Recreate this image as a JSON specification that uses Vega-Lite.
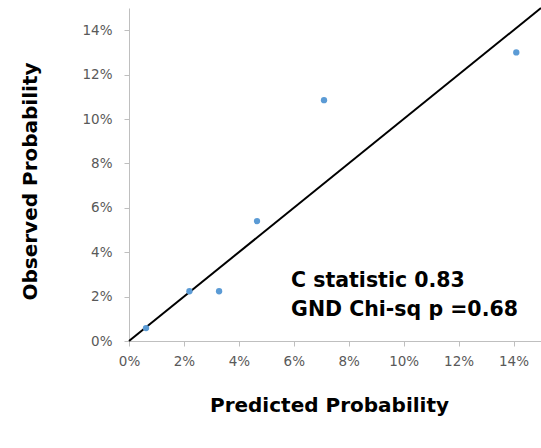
{
  "$schema": "https://vega.github.io/schema/vega-lite/v6.json",
  "width": 412,
  "height": 333,
  "autosize": {"type": "none"},
  "padding": {"left": 129, "top": 8, "right": 0, "bottom": 107},
  "background": "white",
  "config": {
    "view": {"stroke": null},
    "axis": {"grid": false, "labelFlush": false, "labelOverlap": false, "domainColor": "#bfbfbf", "tickColor": "#bfbfbf", "tickSize": 5, "labelFont": "DejaVu Sans", "labelFontSize": 13.5, "labelColor": "#595959", "titleFont": "DejaVu Sans", "titleFontWeight": "bold", "titleFontSize": 20, "titleColor": "black"}
  },
  "datasets": {
    "points": [
      {"predicted": 0.0062, "observed": 0.0058},
      {"predicted": 0.022, "observed": 0.0224},
      {"predicted": 0.0328, "observed": 0.0224},
      {"predicted": 0.0466, "observed": 0.054},
      {"predicted": 0.071, "observed": 0.1085},
      {"predicted": 0.141, "observed": 0.130}
    ],
    "diag": [{"x": 0, "y": 0, "x2": 0.15, "y2": 0.15}],
    "notes": [
      {"x": 0.059, "y": 0.0243, "label": "C statistic 0.83"},
      {"x": 0.059, "y": 0.0113, "label": "GND Chi-sq p =0.68"}
    ]
  },
  "layer": [
    {
      "data": {"name": "diag"},
      "mark": {"type": "rule", "color": "black", "strokeWidth": 2},
      "encoding": {
        "x": {"field": "x", "type": "quantitative", "scale": {"domain": [0, 0.15], "nice": false}, "title": "Predicted Probability",
          "axis": {"format": ".0%", "values": [0, 0.02, 0.04, 0.06, 0.08, 0.1, 0.12, 0.14], "labelPadding": 8, "titleX": 200, "titleY": 64, "titleBaseline": "middle"}},
        "y": {"field": "y", "type": "quantitative", "scale": {"domain": [0, 0.15], "nice": false}, "title": "Observed Probability",
          "axis": {"format": ".0%", "values": [0, 0.02, 0.04, 0.06, 0.08, 0.1, 0.12, 0.14], "labelPadding": 12, "titleX": -99, "titleY": 173, "titleBaseline": "middle", "titleAngle": -90}},
        "x2": {"field": "x2"},
        "y2": {"field": "y2"}
      }
    },
    {
      "data": {"name": "points"},
      "mark": {"type": "circle", "color": "#5b9bd5", "opacity": 1, "size": 40},
      "encoding": {
        "x": {"field": "predicted", "type": "quantitative"},
        "y": {"field": "observed", "type": "quantitative"}
      }
    },
    {
      "data": {"name": "notes"},
      "mark": {"type": "text", "align": "left", "baseline": "alphabetic", "font": "DejaVu Sans", "fontWeight": "bold", "fontSize": 20.5, "color": "black"},
      "encoding": {
        "x": {"field": "x", "type": "quantitative"},
        "y": {"field": "y", "type": "quantitative"},
        "text": {"field": "label"}
      }
    }
  ]
}
